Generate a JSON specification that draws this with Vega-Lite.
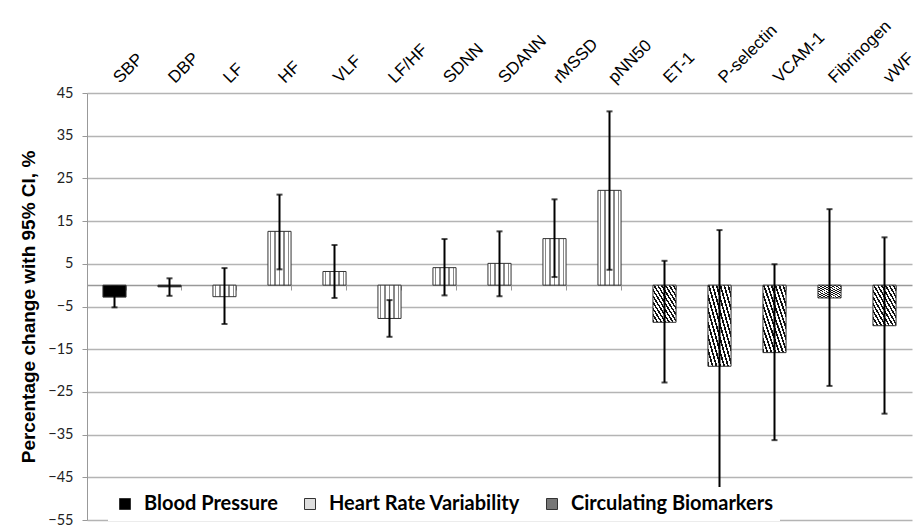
{
  "$schema": "https://vega.github.io/schema/vega-lite/v6.json",
  "autosize": {"type": "none"},
  "padding": {"left": 87, "top": 93, "right": 1, "bottom": 5},
  "width": 825,
  "height": 427,
  "background": "white",
  "config": {"view": {"stroke": null}},
  "data": {"values": [
    {"name": "SBP", "group": "Blood Pressure", "value": -2.8, "lo": -5.2, "hi": -0.4},
    {"name": "DBP", "group": "Blood Pressure", "value": -0.4, "lo": -2.5, "hi": 1.6},
    {"name": "LF", "group": "Heart Rate Variability", "value": -2.7, "lo": -9.1, "hi": 4.0},
    {"name": "HF", "group": "Heart Rate Variability", "value": 12.6, "lo": 3.7, "hi": 21.2},
    {"name": "VLF", "group": "Heart Rate Variability", "value": 3.2, "lo": -3.0, "hi": 9.4},
    {"name": "LF/HF", "group": "Heart Rate Variability", "value": -7.8, "lo": -12.1, "hi": -3.5},
    {"name": "SDNN", "group": "Heart Rate Variability", "value": 4.1, "lo": -2.4, "hi": 10.8},
    {"name": "SDANN", "group": "Heart Rate Variability", "value": 5.1, "lo": -2.6, "hi": 12.6},
    {"name": "rMSSD", "group": "Heart Rate Variability", "value": 10.9, "lo": 1.9, "hi": 20.1},
    {"name": "pNN50", "group": "Heart Rate Variability", "value": 22.2, "lo": 3.6, "hi": 40.7},
    {"name": "ET-1", "group": "Circulating Biomarkers", "value": -8.7, "lo": -22.8, "hi": 5.7},
    {"name": "P-selectin", "group": "Circulating Biomarkers", "value": -19.0, "lo": -54.5, "hi": 12.9},
    {"name": "VCAM-1", "group": "Circulating Biomarkers", "value": -15.8, "lo": -36.3, "hi": 4.9},
    {"name": "Fibrinogen", "group": "Circulating Biomarkers", "value": -3.0, "lo": -23.6, "hi": 17.8},
    {"name": "vWF", "group": "Circulating Biomarkers", "value": -9.5, "lo": -30.1, "hi": 11.2}
  ]},
  "layer": [
    {
      "mark": {"type": "bar", "stroke": "#333", "strokeWidth": 1},
      "encoding": {
        "x": {"field": "name", "type": "nominal", "sort": null,
              "scale": {"paddingInner": 0.58, "paddingOuter": 0.29},
              "axis": {"orient": "top", "title": null, "labelAngle": -45, "labelAlign": "left", "labelBaseline": "middle",
                       "domain": false, "ticks": false, "labelOffset": 2,
                       "labelFont": "Liberation Sans", "labelFontSize": 17, "labelColor": "#000", "labelPadding": 13}},
        "y": {"field": "value", "type": "quantitative",
              "scale": {"domain": [-55, 45], "nice": false, "zero": false},
              "axis": {"values": [-55, -45, -35, -25, -15, -5, 5, 15, 25, 35, 45],
                       "title": "Percentage change with 95% CI, %",
                       "titleFont": "Liberation Sans", "titleFontSize": 19, "titleFontWeight": "bold", "titleColor": "#000",
                       "titlePadding": 9,
                       "labelFont": "Lato", "labelFontSize": 14.5, "labelColor": "#222", "labelPadding": 9,
                       "grid": true, "gridColor": "#b4b4b4", "gridWidth": 1.3,
                       "domainColor": "#999", "tickColor": "#999", "tickSize": 5}},
        "fill": {
          "condition": [
            {"test": "datum.group === 'Heart Rate Variability'",
             "value": {"gradient": "linear", "x1": 0, "y1": 0, "x2": 1, "y2": 0, "stops": [
                {"offset": 0, "color": "#ffffff"}, {"offset": 0.07, "color": "#ffffff"},
                {"offset": 0.0701, "color": "#888888"}, {"offset": 0.13, "color": "#888888"},
                {"offset": 0.1301, "color": "#ffffff"}, {"offset": 0.27, "color": "#ffffff"},
                {"offset": 0.2701, "color": "#888888"}, {"offset": 0.33, "color": "#888888"},
                {"offset": 0.3301, "color": "#ffffff"}, {"offset": 0.47, "color": "#ffffff"},
                {"offset": 0.4701, "color": "#888888"}, {"offset": 0.53, "color": "#888888"},
                {"offset": 0.5301, "color": "#ffffff"}, {"offset": 0.67, "color": "#ffffff"},
                {"offset": 0.6701, "color": "#888888"}, {"offset": 0.73, "color": "#888888"},
                {"offset": 0.7301, "color": "#ffffff"}, {"offset": 0.87, "color": "#ffffff"},
                {"offset": 0.8701, "color": "#888888"}, {"offset": 0.93, "color": "#888888"},
                {"offset": 0.9301, "color": "#ffffff"}, {"offset": 1, "color": "#ffffff"}
              ]}},
            {"test": "datum.group === 'Circulating Biomarkers'",
             "value": {"gradient": "linear", "x1": 0, "y1": 1, "x2": 1, "y2": 0, "stops": [
                {"offset": 0, "color": "#111111"}, {"offset": 0.0375, "color": "#111111"},
                {"offset": 0.0376, "color": "#ffffff"}, {"offset": 0.0833, "color": "#ffffff"},
                {"offset": 0.0834, "color": "#111111"}, {"offset": 0.1208, "color": "#111111"},
                {"offset": 0.1209, "color": "#ffffff"}, {"offset": 0.1667, "color": "#ffffff"},
                {"offset": 0.1668, "color": "#111111"}, {"offset": 0.2042, "color": "#111111"},
                {"offset": 0.2043, "color": "#ffffff"}, {"offset": 0.25, "color": "#ffffff"},
                {"offset": 0.2501, "color": "#111111"}, {"offset": 0.2875, "color": "#111111"},
                {"offset": 0.2876, "color": "#ffffff"}, {"offset": 0.3333, "color": "#ffffff"},
                {"offset": 0.3334, "color": "#111111"}, {"offset": 0.3708, "color": "#111111"},
                {"offset": 0.3709, "color": "#ffffff"}, {"offset": 0.4167, "color": "#ffffff"},
                {"offset": 0.4168, "color": "#111111"}, {"offset": 0.4542, "color": "#111111"},
                {"offset": 0.4543, "color": "#ffffff"}, {"offset": 0.5, "color": "#ffffff"},
                {"offset": 0.5001, "color": "#111111"}, {"offset": 0.5375, "color": "#111111"},
                {"offset": 0.5376, "color": "#ffffff"}, {"offset": 0.5833, "color": "#ffffff"},
                {"offset": 0.5834, "color": "#111111"}, {"offset": 0.6208, "color": "#111111"},
                {"offset": 0.6209, "color": "#ffffff"}, {"offset": 0.6667, "color": "#ffffff"},
                {"offset": 0.6668, "color": "#111111"}, {"offset": 0.7042, "color": "#111111"},
                {"offset": 0.7043, "color": "#ffffff"}, {"offset": 0.75, "color": "#ffffff"},
                {"offset": 0.7501, "color": "#111111"}, {"offset": 0.7875, "color": "#111111"},
                {"offset": 0.7876, "color": "#ffffff"}, {"offset": 0.8333, "color": "#ffffff"},
                {"offset": 0.8334, "color": "#111111"}, {"offset": 0.8708, "color": "#111111"},
                {"offset": 0.8709, "color": "#ffffff"}, {"offset": 0.9167, "color": "#ffffff"},
                {"offset": 0.9168, "color": "#111111"}, {"offset": 0.9542, "color": "#111111"},
                {"offset": 0.9543, "color": "#ffffff"}, {"offset": 1, "color": "#ffffff"}
              ]}}
          ],
          "field": "group", "type": "nominal",
          "scale": {"domain": ["Blood Pressure", "Heart Rate Variability", "Circulating Biomarkers"],
                    "range": ["#000000", "#dddddd", "#777777"]},
          "legend": {"title": null, "orient": "none", "legendX": 21, "legendY": 394, "direction": "horizontal",
                     "symbolType": "square", "symbolSize": 121, "symbolStrokeColor": "#333", "symbolStrokeWidth": 1,
                     "labelFont": "Lato", "labelFontSize": 20, "labelFontWeight": "bold", "labelColor": "#000",
                     "labelExpr": "datum.label === 'Blood Pressure' ? datum.label + '     ' : datum.label",
                     "labelLimit": 400, "columnPadding": 22, "labelOffset": 9,
                     "fillColor": "white", "padding": 7}
        }
      }
    },
    {
      "mark": {"type": "rule", "color": "#000", "strokeWidth": 2},
      "encoding": {
        "x": {"field": "name", "type": "nominal", "sort": null,
              "axis": {"orient": "bottom", "offset": -235, "title": null, "labels": false, "tickBand": "extent",
                       "domainColor": "#999", "domainWidth": 1.3, "tickColor": "#999", "tickSize": 5}},
        "y": {"field": "lo", "type": "quantitative"},
        "y2": {"field": "hi"}
      }
    },
    {
      "mark": {"type": "tick", "color": "#000", "size": 6, "thickness": 2, "orient": "horizontal"},
      "encoding": {
        "x": {"field": "name", "type": "nominal", "sort": null, "axis": null},
        "y": {"field": "lo", "type": "quantitative"}
      }
    },
    {
      "mark": {"type": "tick", "color": "#000", "size": 6, "thickness": 2, "orient": "horizontal"},
      "encoding": {
        "x": {"field": "name", "type": "nominal", "sort": null, "axis": null},
        "y": {"field": "hi", "type": "quantitative"}
      }
    }
  ],
  "resolve": {"axis": {"x": "independent"}}
}
